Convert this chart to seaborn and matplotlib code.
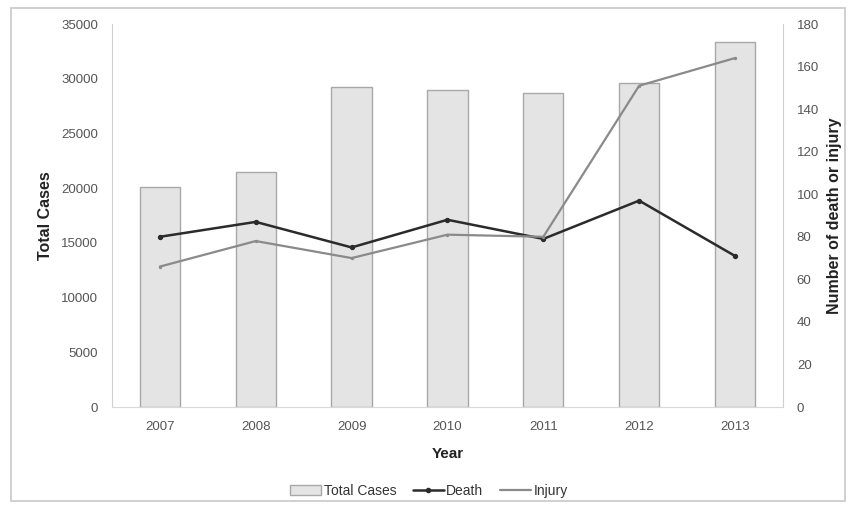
import seaborn as sns
import matplotlib.pyplot as plt
import pandas as pd
from matplotlib.patches import Rectangle, Patch
from matplotlib.lines import Line2D

years = ["2007", "2008", "2009", "2010", "2011", "2012", "2013"]
total_cases = [20100, 21500, 29200, 29000, 28700, 29600, 33400]
death = [80, 87, 75, 88, 79, 97, 71]
injury = [66, 78, 70, 81, 80, 151, 164]

df = pd.DataFrame({"Year": years, "Total Cases": total_cases,
                   "Death": death, "Injury": injury})

sns.set_style("white")
plt.rcParams["font.family"] = ["Liberation Sans", "DejaVu Sans"]

fig = plt.figure(figsize=(8.58, 5.11), dpi=100)
ax = fig.add_axes([0.1305, 0.2035, 0.782, 0.7495])
ax2 = ax.twinx()

# chart border
fig.patches.append(Rectangle((0.013, 0.02), 0.972, 0.965, transform=fig.transFigure,
                             fill=False, edgecolor="#c8c8c8", linewidth=1.2))

sns.barplot(data=df, x="Year", y="Total Cases", ax=ax, color="#e4e4e4",
            edgecolor="#a8a8a8", linewidth=1, width=0.42, saturation=1)

sns.pointplot(data=df, x="Year", y="Death", ax=ax2, color="#2b2b2b",
              markers="o", markersize=2.5, linewidth=1.8)
sns.pointplot(data=df, x="Year", y="Injury", ax=ax2, color="#8a8a8a",
              markers="o", markersize=1.2, linewidth=1.6)

ax.set_ylim(0, 35000)
ax.set_yticks(range(0, 35001, 5000))
ax2.set_ylim(0, 180)
ax2.set_yticks(range(0, 181, 20))
ax.set_xlim(-0.5, 6.5)

for a in (ax, ax2):
    for s in a.spines.values():
        s.set_visible(False)
    a.tick_params(axis="both", length=0, labelsize=9.5, colors="#555555", pad=10)
ax.spines["left"].set_visible(True)
ax.spines["left"].set_color("#d0d0d0")
ax2.spines["right"].set_visible(True)
ax2.spines["right"].set_color("#d0d0d0")
ax.spines["bottom"].set_visible(True)
ax.spines["bottom"].set_color("#d8d8d8")

ax.set_xlabel("Year", fontsize=11, fontweight="bold", color="#222222", labelpad=10)
ax.set_ylabel("Total Cases", fontsize=11.5, fontweight="bold", color="#222222", labelpad=6)
ax2.set_ylabel("Number of death or injury", fontsize=11.5, fontweight="bold",
               color="#222222", labelpad=6)

handles = [Patch(facecolor="#e4e4e4", edgecolor="#a8a8a8", label="Total Cases"),
           Line2D([], [], color="#2b2b2b", marker="o", markersize=3, lw=1.8, label="Death"),
           Line2D([], [], color="#8a8a8a", lw=1.6, label="Injury")]
fig.legend(handles=handles, loc="center", bbox_to_anchor=(0.5, 0.04), ncol=3,
           frameon=False, fontsize=10, handlelength=2.2, handletextpad=0.2,
           columnspacing=1.2, labelcolor="#333333")

fig.savefig("out.png", dpi=100)
